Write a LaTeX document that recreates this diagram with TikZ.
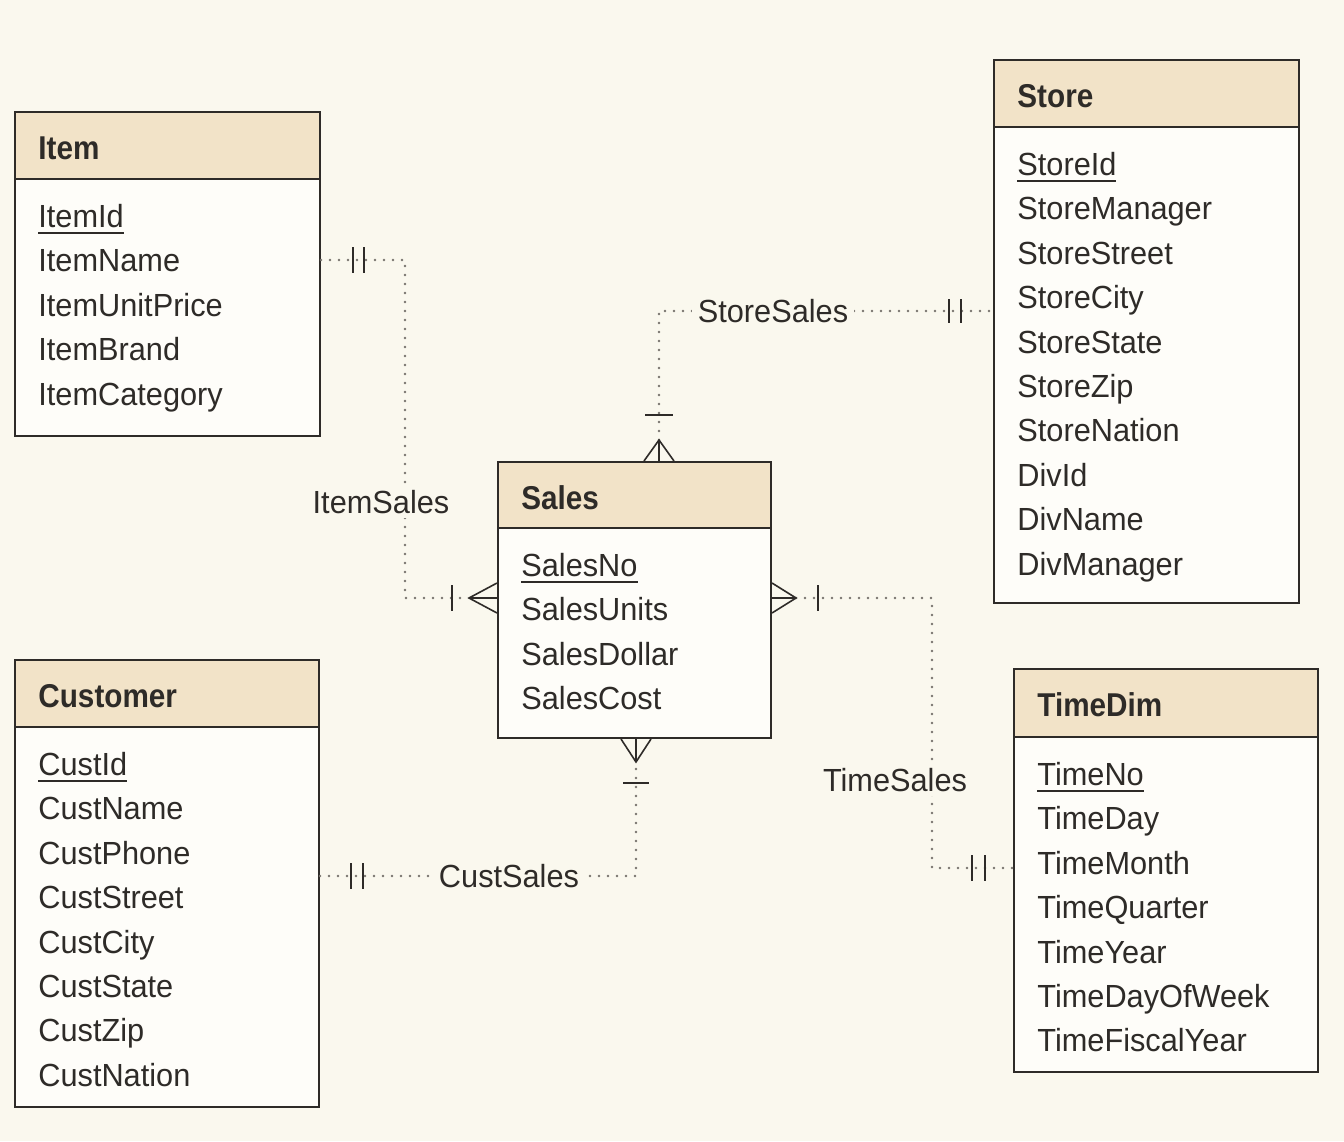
\documentclass[tikz,border=0pt]{standalone}
\usepackage{fontspec}
\setmainfont{Liberation Sans}[FakeStretch=0.96]
\newfontfamily\headfont{Liberation Sans}[FakeStretch=0.9]
\usetikzlibrary{fit,calc}

\definecolor{paper}{HTML}{FAF8EE}
\definecolor{headtan}{HTML}{F2E3C8}
\definecolor{bodywhite}{HTML}{FEFDF9}
\definecolor{ink}{HTML}{2E2B28}
\definecolor{dotgray}{HTML}{77736D}

% underlined primary key
\newcommand\keyattr[1]{\setbox0=\hbox{#1}\rlap{\rule[-3pt]{\wd0}{0.8pt}}\box0}

\tikzset{
  boxline/.style={draw=ink, line width=1pt},
  titletext/.style={font=\headfont\bfseries\fontsize{16.5}{19}\selectfont, text=ink, inner sep=0pt, anchor=base west},
  attrtext/.style={font=\fontsize{16}{19}\selectfont, text=ink, inner sep=0pt, anchor=base west},
  rellabel/.style={font=\fontsize{16}{19}\selectfont, text=ink, fill=paper, inner xsep=3pt, inner ysep=2pt},
  rel/.style={draw=dotgray, line width=1.3pt, line cap=round, dash pattern=on 0pt off 4.5pt},
  crow/.style={draw=ink, line width=0.8pt},
  bar/.style={draw=ink, line width=1pt},
}

% entity box: name, left, top, right, header bottom, bottom, title, attributes
\newcommand\entity[8]{%
  \fill[headtan] (#2,#3) rectangle (#4,#5);
  \fill[bodywhite] (#2,#5) rectangle (#4,#6);
  \draw[boxline] (#2,#5) -- (#4,#5);
  \node[fit={(#2,#3) (#4,#6)}, inner sep=0pt, boxline] (#1) {};
  \node[titletext] (#1-title) at (#2+23,#3+47.5) {#7};
  \foreach \a [count=\i] in {#8} {
    \node[attrtext] (#1-\i) at (#2+23,#5+48.5+44.4*\i-44.4) {\ifnum\i=1 \keyattr{\a}\else\a\fi};
  }
}

\begin{document}
\begin{tikzpicture}[x=0.5pt,y=-0.5pt]
\fill[paper] (0,0) rectangle (1344,1141);
\useasboundingbox (0,0) rectangle (1344,1141);

\entity{item}{15}{112}{320}{179}{436}{Item}{ItemId,ItemName,ItemUnitPrice,ItemBrand,ItemCategory}
\entity{store}{994}{60}{1299}{127}{603}{Store}{StoreId,StoreManager,StoreStreet,StoreCity,StoreState,StoreZip,StoreNation,DivId,DivName,DivManager}
\entity{sales}{498}{462}{771}{528}{738}{Sales}{SalesNo,SalesUnits,SalesDollar,SalesCost}
\entity{cust}{15}{660}{319}{727}{1107}{Customer}{CustId,CustName,CustPhone,CustStreet,CustCity,CustState,CustZip,CustNation}
\entity{time}{1014}{669}{1318}{737}{1072}{TimeDim}{TimeNo,TimeDay,TimeMonth,TimeQuarter,TimeYear,TimeDayOfWeek,TimeFiscalYear}

% ItemSales
\coordinate (tipW) at ($(sales.west |- 0,598)+(-28,0)$);
\draw[rel] (item.east |- 0,260) -- (405,260) -- (405,598) -- (tipW);
\draw[crow] ($(tipW)+(28,-15)$) -- (tipW) -- ($(tipW)+(28,15)$) (tipW) -- +(28,0);
\draw[bar] ($(tipW)+(-17,-13)$) -- ($(tipW)+(-17,13)$);
\draw[bar] ($(item.east |- 0,260)+(32,-13)$) -- +(0,26)
           ($(item.east |- 0,260)+(43,-13)$) -- +(0,26);
\node[rellabel] (lblItem) at (381,502) {ItemSales};

% StoreSales
\coordinate (tipN) at ($(659,0 |- sales.north)+(0,-21)$);
\draw[rel] (tipN) -- (659,311) -- (store.west |- 0,311);
\draw[crow] ($(tipN)+(-15,21)$) -- (tipN) -- ($(tipN)+(15,21)$) (tipN) -- +(0,21);
\draw[bar] ($(tipN)+(-14,-25)$) -- ($(tipN)+(14,-25)$);
\draw[bar] ($(store.west |- 0,311)+(-44,-12)$) -- +(0,24)
           ($(store.west |- 0,311)+(-32,-12)$) -- +(0,24);
\node[rellabel] (lblStore) at (773,311) {StoreSales};

% CustSales
\coordinate (tipS) at ($(636,0 |- sales.south)+(0,23)$);
\draw[rel] (cust.east |- 0,876) -- (636,876) -- (tipS);
\draw[crow] ($(tipS)+(-15,-23)$) -- (tipS) -- ($(tipS)+(15,-23)$) (tipS) -- +(0,-23);
\draw[bar] ($(tipS)+(-13,21)$) -- ($(tipS)+(13,21)$);
\draw[bar] ($(cust.east |- 0,876)+(31,-13)$) -- +(0,26)
           ($(cust.east |- 0,876)+(43,-13)$) -- +(0,26);
\node[rellabel] (lblCust) at (509,876) {CustSales};

% TimeSales
\coordinate (tipE) at ($(sales.east |- 0,598)+(24,0)$);
\draw[rel] (tipE) -- (932,598) -- (932,868) -- (time.west |- 0,868);
\draw[crow] ($(tipE)+(-24,-15)$) -- (tipE) -- ($(tipE)+(-24,15)$) (tipE) -- +(-24,0);
\draw[bar] ($(tipE)+(22,-13)$) -- ($(tipE)+(22,13)$);
\draw[bar] ($(time.west |- 0,868)+(-41,-13)$) -- +(0,26)
           ($(time.west |- 0,868)+(-28,-13)$) -- +(0,26);
\node[rellabel] (lblTime) at (895,780) {TimeSales};
\end{tikzpicture}
\end{document}
